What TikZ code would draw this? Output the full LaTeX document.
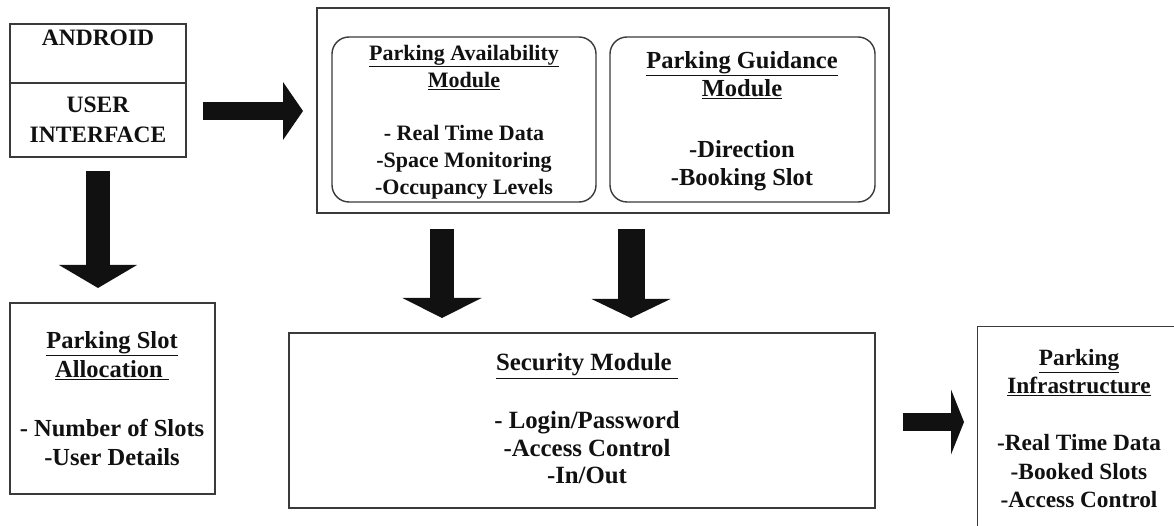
\documentclass[tikz,border=0pt]{standalone}
\usepackage{fontspec}
\setmainfont{Liberation Serif}
\usetikzlibrary{arrows.meta}
\definecolor{edge}{HTML}{3A3A3A}
\definecolor{ink}{HTML}{111111}
\begin{document}
\begin{tikzpicture}[x=1pt,y=-1pt,
  box/.style={draw=edge,line width=1.4pt,fill=white,inner sep=0pt},
  rbox/.style={box,rounded corners=17pt},
  txt/.style 2 args={align=center,inner sep=0pt,text=ink,font=\bfseries\fontsize{#1}{#2}\selectfont},
  blockarrow/.style n args={3}{draw=ink,line width=#1,
    -{Triangle[width=#2,length=#3,line width=0pt]}},
]
\useasboundingbox (0,0) rectangle (1174,526);
\clip (0,0) rectangle (1174,526);
\fill[white] (0,0) rectangle (1174,526);

% Android / user interface box with its divider
\node[box,minimum width=176pt,minimum height=133pt] (android) at (98,90.5) {};
\draw[edge,line width=1.4pt] (android.west |- 0,83) -- (android.east |- 0,83);
\node[txt={23.5}{30}] (androidtxt) at (98,38) {ANDROID};
\node[txt={23.5}{30}] (uitxt) at (98,120) {USER\\INTERFACE};

% Module container with the two rounded modules
\node[box,minimum width=572pt,minimum height=205pt] (modules) at (603,110.5) {};
\node[rbox,minimum width=264pt,minimum height=165pt] (avail) at (464,119.5) {};
\node[rbox,minimum width=265pt,minimum height=165pt] (guide) at (742.5,119.5) {};
\node[txt={22}{27}] (availtxt) at (464,122)
  {\underline{Parking Availability}\\\underline{Module}\\[26pt]- Real Time Data\\-Space Monitoring\\-Occupancy Levels};
\node[txt={24.5}{28.5}] (guidetxt) at (742,121)
  {\underline{Parking Guidance}\\\underline{Module}\\[32pt]-Direction\\-Booking Slot};

% Parking slot allocation
\node[box,minimum width=205pt,minimum height=191pt] (slot) at (112.5,398.5) {};
\node[txt={24.5}{29}] (slottxt) at (112,398.5)
  {\underline{Parking Slot}\\\underline{Allocation\ }\\[30pt]- Number of Slots\\-User Details};

% Security module
\node[box,minimum width=586pt,minimum height=175pt] (security) at (582,420.5) {};
\node[txt={24.8}{27.5}] (sectxt) at (587,419)
  {\underline{Security Module\ }\\[30.5pt]- Login/Password\\-Access Control\\-In/Out};

% Parking infrastructure (runs off the lower right edge)
\node[box,minimum width=220pt,minimum height=240pt,anchor=north west] (infra) at (977,326) {};
\node[txt={23.3}{28.5}] (infratxt) at (1079,428.5)
  {\underline{Parking}\\\underline{Infrastructure}\\[28.5pt]-Real Time Data\\-Booked Slots\\-Access Control};

% Block arrows
\coordinate (a1s) at (203,111);  \coordinate (a1e) at (303,111);
\coordinate (a2s) at (98,171);   \coordinate (a2e) at (98,288);
\coordinate (a3s) at (442,229);  \coordinate (a3e) at (442,318);
\coordinate (a4s) at (631,229);  \coordinate (a4e) at (631,318);
\coordinate (a5s) at (903,422);  \coordinate (a5e) at (964,422);
\draw[blockarrow={18pt}{58pt}{20pt}] (a1s) -- (a1e);
\draw[blockarrow={24pt}{78pt}{23pt}] (a2s) -- (a2e);
\draw[blockarrow={24pt}{79pt}{20pt}] (a3s) -- (a3e);
\draw[blockarrow={27pt}{79pt}{19pt}] (a4s) -- (a4e);
\draw[blockarrow={18pt}{65pt}{13pt}] (a5s) -- (a5e);
\end{tikzpicture}
\end{document}
